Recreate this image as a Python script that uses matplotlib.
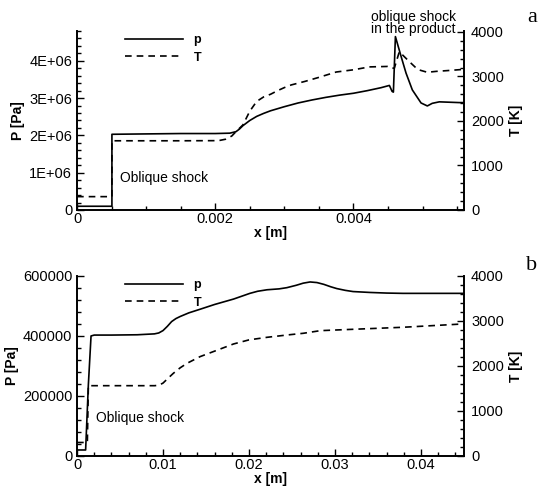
import matplotlib
matplotlib.use("Agg")
import matplotlib.pyplot as plt
from matplotlib.ticker import MultipleLocator, AutoMinorLocator, FuncFormatter
from matplotlib.lines import Line2D

plt.rcParams['font.family'] = ['Liberation Sans', 'DejaVu Sans']

# ---------------- panel a data ----------------
xa_p = [0, 0.000505, 0.000505, 0.0010, 0.0015, 0.0020, 0.00221, 0.0023, 0.00235,
        0.0024, 0.0025, 0.0026, 0.0027, 0.0028, 0.0030, 0.0032, 0.0034, 0.0036,
        0.0038, 0.0040, 0.0042, 0.0044, 0.00452, 0.004559, 0.004578,
        0.004607, 0.004689, 0.004761, 0.004852, 0.004978, 0.005069, 0.00514,
        0.005242, 0.00553, 0.0056]
pa = [0.10e6, 0.10e6, 2.03e6, 2.04e6, 2.05e6, 2.05e6, 2.06e6, 2.10e6, 2.17e6,
      2.26e6, 2.40e6, 2.51e6, 2.59e6, 2.66e6, 2.77e6, 2.87e6, 2.95e6, 3.02e6,
      3.08e6, 3.13e6, 3.20e6, 3.28e6, 3.34e6, 3.18e6, 3.16e6,
      4.65e6, 4.12e6, 3.67e6, 3.22e6, 2.87e6, 2.79e6, 2.86e6,
      2.90e6, 2.88e6, 2.88e6]

xa_t = [0, 0.000505, 0.000505, 0.0010, 0.0015, 0.0020, 0.00207, 0.00215, 0.00224,
        0.0023, 0.0024, 0.0025, 0.0026, 0.0027, 0.0028, 0.0029, 0.0030, 0.0031,
        0.0033, 0.0035, 0.00375, 0.0040, 0.00423, 0.00449, 0.004563,
        0.004592, 0.004664, 0.0047, 0.004809, 0.0049, 0.004953, 0.005069,
        0.0052, 0.005343, 0.0056]
ta = [300, 300, 1555, 1555, 1555, 1558, 1565, 1590, 1663,
      1760, 1910, 2220, 2440, 2540, 2600, 2680, 2750, 2810,
      2890, 2980, 3100, 3150, 3215, 3225, 3184,
      3190, 3557, 3500, 3333, 3200, 3146, 3094,
      3115, 3130, 3160]

# ---------------- panel b data ----------------
xb_p = [0, 0.0010, 0.00132, 0.00163, 0.0020, 0.004, 0.007, 0.009, 0.0095, 0.0100,
        0.0105, 0.0110, 0.0115, 0.0120, 0.0130, 0.0143, 0.0160, 0.0182, 0.0201,
        0.0210, 0.0221, 0.0235, 0.0244, 0.0255, 0.0263, 0.0271, 0.0279, 0.0287,
        0.0295, 0.0302, 0.0312, 0.0321, 0.0341, 0.0360, 0.0379, 0.045]
pb = [20000, 20000, 238000, 400000, 403000, 403000, 404000, 407000, 410000, 418000,
      432000, 448000, 458000, 465000, 477000, 489000, 505000, 523000, 542000,
      549000, 554000, 557000, 561000, 569000, 576000, 580000, 578000, 572000,
      564000, 558000, 552000, 548000, 545000, 543000, 542000, 542000]

xb_t = [0, 0.0012, 0.00132, 0.0040, 0.0070, 0.0090, 0.0095, 0.0100, 0.0106,
        0.0112, 0.0120, 0.0128, 0.0143, 0.0160, 0.0182, 0.0200, 0.0221, 0.0245,
        0.0263, 0.0283, 0.0321, 0.0379, 0.045]
tb = [300, 300, 1562, 1562, 1562, 1562, 1570, 1620, 1730,
      1837, 1960, 2060, 2207, 2330, 2489, 2580, 2637, 2690,
      2726, 2785, 2815, 2860, 2935]

fig = plt.figure(figsize=(5.39, 4.88), dpi=100)


def sci(v, pos):
    if v == 0:
        return '0'
    return '%dE+06' % round(v / 1e6)


def style(ax, ax2):
    for s in ['top', 'right']:
        ax.spines[s].set_visible(False)
    for s in ['top', 'left', 'bottom']:
        ax2.spines[s].set_visible(False)
    for s in ['left', 'bottom']:
        ax.spines[s].set_linewidth(1.4)
    ax2.spines['right'].set_linewidth(1.4)
    ax.tick_params(which='both', direction='in', labelsize=10.5, width=1)
    ax.tick_params(which='major', length=5)
    ax.tick_params(which='minor', length=3)
    ax.tick_params(axis='x', pad=1.5)
    ax2.tick_params(which='both', direction='in', labelsize=10.5, width=1, pad=5)
    ax2.tick_params(which='major', length=5)
    ax2.tick_params(which='minor', length=3)
    ax.yaxis.set_minor_locator(AutoMinorLocator(5))
    ax2.yaxis.set_minor_locator(AutoMinorLocator(5))
    ax2.set_ylabel('T [K]', fontsize=10, fontweight='bold', labelpad=4)
    ax.set_xlabel('x [m]', fontsize=10, fontweight='bold', labelpad=0)
    ax.set_ylabel('P [Pa]', fontsize=10, fontweight='bold', labelpad=3)
    handles = [Line2D([], [], color='black', lw=1.2),
               Line2D([], [], color='black', lw=1.2, dashes=(4, 3))]
    ax.legend(handles, ['p', 'T'], loc='upper left', bbox_to_anchor=(0.115, 1.0),
              frameon=False, handlelength=4.7, handletextpad=0.8, labelspacing=0.45,
              borderpad=0.25, borderaxespad=0, prop={'weight': 'bold', 'size': 9})


# ---- panel a ----
ax = fig.add_axes([0.1429, 0.5697, 0.718, 0.3668])
ax2 = ax.twinx()
ax.plot(xa_p, pa, color='black', lw=1.2)
ax2.plot(xa_t, ta, color='black', lw=1.2, dashes=(4, 3))
ax.set_xlim(0, 0.0056)
ax.set_ylim(0, 4.8e6)
ax2.set_ylim(0, 4022)
ax.set_xticks([0, 0.002, 0.004])
ax.set_xticklabels(['0', '0.002', '0.004'])
ax.xaxis.set_minor_locator(MultipleLocator(0.0005))
ax.set_yticks([0, 1e6, 2e6, 3e6, 4e6])
ax.yaxis.set_major_formatter(FuncFormatter(sci))
ax2.set_yticks([0, 1000, 2000, 3000, 4000])
style(ax, ax2)
ax.text(0.00062, 0.86e6, 'Oblique shock', fontsize=10, va='center', ha='left')
ax.text(0.004866, 5.02e6, 'oblique shock\nin the product', fontsize=10,
        va='center', ha='center', linespacing=0.85, clip_on=False)

# ---- panel b ----
bx = fig.add_axes([0.1429, 0.0656, 0.718, 0.3689])
bx2 = bx.twinx()
bx.plot(xb_p, pb, color='black', lw=1.2)
bx2.plot(xb_t, tb, color='black', lw=1.2, dashes=(4, 3))
bx.set_xlim(0, 0.045)
bx.set_ylim(0, 600000)
bx2.set_ylim(0, 4000)
bx.set_xticks([0, 0.01, 0.02, 0.03, 0.04])
bx.set_xticklabels(['0', '0.01', '0.02', '0.03', '0.04'])
bx.xaxis.set_minor_locator(MultipleLocator(0.002))
bx.set_yticks([0, 200000, 400000, 600000])
bx.set_yticklabels(['0', '200000', '400000', '600000'])
bx2.set_yticks([0, 1000, 2000, 3000, 4000])
style(bx, bx2)
bx.text(0.0022, 127000, 'Oblique shock', fontsize=10, va='center', ha='left')

fig.text(532 / 539, 1 - 18 / 488, 'a', family='Liberation Serif', fontsize=16,
         ha='center', va='center')
fig.text(532 / 539, 1 - 266 / 488, 'b', family='Liberation Serif', fontsize=16,
         ha='center', va='center')

fig.savefig('out.png', dpi=100)
